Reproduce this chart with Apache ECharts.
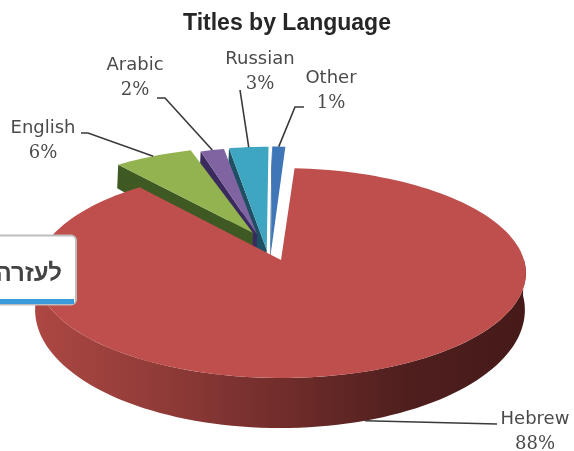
<!DOCTYPE html>
<html>
<head>
<meta charset="utf-8">
<style>html,body{margin:0;padding:0;background:#fff}#c{width:574px;height:451px}</style>
<script src="https://cdn.jsdelivr.net/npm/echarts@6/dist/echarts.min.js"></script>
</head>
<body>
<div id="c"></div>
<script>
// Language shares of the catalogue, in percent
var categories = ['Hebrew', 'English', 'Arabic', 'Russian', 'Other'];
var shares = [88, 6, 2, 3, 1];

// Slice styling
var topColors = ['#BE4F4C', '#92B350', '#8064A2', '#3FA6C2', '#3F76B8'];
var faceColors = ['#5a2220', '#3E5A22', '#3A2A5E', '#1F4F62', '#24507F'];
// How far each slice is pulled out of the disc, in disc radii [across, back]
var explode = [[0, 0], [-0.119, 0.27], [-0.102, 0.256], [-0.0595, 0.098], [-0.042, 0.07]];
// Radial stretch of each pulled-out slice [across, back]
var reach = [[1, 1], [1, 1], [0.9, 1], [1, 1.17], [1, 1.2]];
// Label anchor, leader elbow and the short stub next to the label, in pixels
var labelAt = [[535, 407], [43, 116], [135, 53], [260, 47], [331, 66]];
var elbows = [[497, 424], [88, 133], [165, 98], [240, 90], [295, 107]];
var stubs = [[-1, 0], [-7, 0], [-8, 0], [0, 0], [9, 0]];

// Camera: tilted disc with perspective foreshortening
var startDeg = 3.6, apexX = 281, apexY = 260;
var radiusX = 243, radiusY = 103.4, depth = 0.124;
// Lower rim of the disc, relative to the upper rim's centre
var topCentreY = 273, lowCentreX = 280, lowCentreY = 310, lowStretchY = 118 / 105;

function project(x, z, down) {
  var w = 1 + depth * z;
  var px = apexX + radiusX * x / w, py = apexY - radiusY * z / w;
  if (down) {
    px = lowCentreX + (px - apexX);
    py = lowCentreY + (py - topCentreY) * lowStretchY;
  }
  return [px, py];
}
function rim(deg, i, down) {
  var a = deg * Math.PI / 180;
  return project(explode[i][0] + reach[i][0] * Math.sin(a), explode[i][1] + reach[i][1] * Math.cos(a), down);
}
function sliceSpan(i) {
  var from = startDeg;
  for (var k = 0; k < i; k++) from += shares[k] * 3.6;
  return [from, from + shares[i] * 3.6];
}
function arc(from, to, i, down) {
  var pts = [], n = Math.max(4, Math.ceil((to - from) / 2));
  for (var k = 0; k <= n; k++) pts.push(rim(from + (to - from) * k / n, i, down));
  return pts;
}

function renderSlice(params, api) {
  var i = params.dataIndex, span = sliceSpan(i), off = explode[i];
  var z2 = i === 0 ? 20 : 10 - i;
  var children = [];
  var apexTop = project(off[0], off[1], false), apexBottom = project(off[0], off[1], true);
  if (i === 0) {
    // outer wall facing the viewer
    var wallTop = arc(90, 272, i, false), wallBottom = arc(90, 272, i, true).reverse();
    children.push({
      type: 'polygon', z2: z2 - 1,
      shape: { points: wallTop.concat(wallBottom) },
      style: {
        fill: {
          type: 'linear', x: 38, y: 0, x2: 527, y2: 0, global: true,
          colorStops: [
            { offset: 0, color: '#AC4743' },
            { offset: 0.27, color: '#8E3A37' },
            { offset: 0.55, color: '#6A2A28' },
            { offset: 0.75, color: '#4F1F1E' },
            { offset: 1, color: '#451A19' }
          ]
        }
      }
    });
  } else {
    // cut face on the left side of the pulled-out wedge
    children.push({
      type: 'polygon', z2: z2 - 0.5,
      shape: { points: [rim(span[0], i, false), apexTop, apexBottom, rim(span[0], i, true)] },
      style: { fill: faceColors[i] }
    });
  }
  children.push({
    type: 'polygon', z2: z2,
    shape: { points: [apexTop].concat(arc(span[0], span[1], i, false)) },
    style: { fill: topColors[i] }
  });
  // leader line from the label elbow to the middle of the slice rim
  var tail = rim((span[0] + span[1]) / 2, i, i === 0);
  var stubEnd = [elbows[i][0] + stubs[i][0], elbows[i][1] + stubs[i][1]];
  children.push({
    type: 'polyline', z2: 30,
    shape: { points: [stubEnd, elbows[i], tail] },
    style: { stroke: '#3a3a3a', lineWidth: 1.6, fill: null }
  });
  // label: name above, share below
  children.push({
    type: 'text', z2: 31,
    style: {
      x: labelAt[i][0], y: labelAt[i][1],
      text: '{n|' + categories[i] + '}\n{v|' + api.value(0) + '%}',
      align: 'center', verticalAlign: 'top',
      rich: {
        n: { font: '18px "DejaVu Sans"', fill: '#4a4a4a', lineHeight: 25, align: 'center' },
        v: { font: '18px "DejaVu Serif"', fill: '#4a4a4a', lineHeight: 25, align: 'center' }
      }
    }
  });
  return { type: 'group', children: children };
}

var chart = echarts.init(document.getElementById('c'), null, { renderer: 'canvas' });
chart.setOption({
  animation: false,
  backgroundColor: '#ffffff',
  title: {
    text: 'Titles by Language', left: 282, top: 7, textAlign: 'center',
    textStyle: { fontFamily: 'Liberation Sans', fontWeight: 'bold', fontSize: 23, color: '#262626' }
  },
  series: [{
    type: 'custom',
    coordinateSystem: 'none',
    renderItem: renderSlice,
    data: shares.map(function (v) { return [v]; })
  }],
  // help tab overlapping the left of the pie
  graphic: [
    { type: 'rect', z: 50, shape: { x: -12, y: 235.5, width: 88, height: 69, r: 5 },
      style: { fill: '#fff', stroke: '#bdbdbd', lineWidth: 2 } },
    { type: 'rect', z: 51, shape: { x: 0, y: 299, width: 74, height: 5 }, style: { fill: '#3A9BDC' } },
    { type: 'text', z: 52, style: {
        x: 62, y: 274, text: 'לעזרה', align: 'right', verticalAlign: 'middle',
        font: 'bold 24px "Liberation Sans"', fill: '#444' } }
  ]
});
</script>
</body>
</html>
